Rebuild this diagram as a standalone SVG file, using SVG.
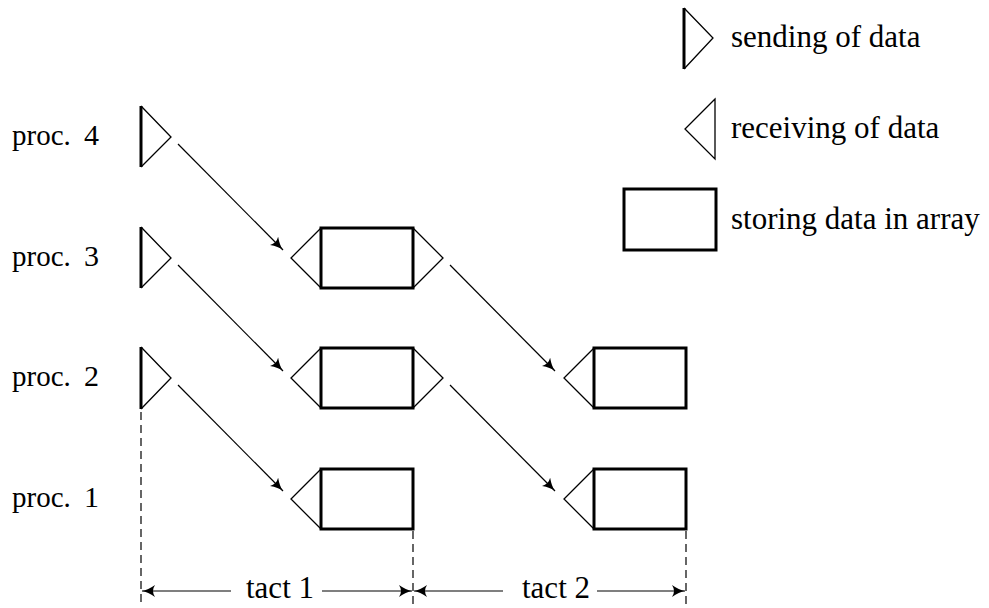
<svg xmlns="http://www.w3.org/2000/svg" width="989" height="608" viewBox="0 0 989 608">
<defs>
<marker id="ah" viewBox="0 0 14 12" refX="13" refY="6" markerWidth="14" markerHeight="12" markerUnits="userSpaceOnUse" orient="auto-start-reverse">
<path d="M0,0 Q7,5 13,6 Q7,7 0,12 Q4,6 0,0 Z" fill="#000"/>
</marker>
</defs>
<style>
text{font-family:'Liberation Serif','Times New Roman',serif;font-size:31px;fill:#000}
.lab{font-size:29px}
.dig{font-size:30px}
.tri{fill:none;stroke:#000;stroke-width:1.3}
.bar{stroke:#000;stroke-width:3}
.box{fill:none;stroke:#000;stroke-width:3}
.ln{stroke:#000;stroke-width:1.2;fill:none}
.dash{stroke:#000;stroke-width:1.2;stroke-dasharray:8,5}
</style>
<rect width="989" height="608" fill="#fff"/>

<g id="labels">
<text class="lab" x="12" y="145">proc.<tspan class="dig" x="84">4</tspan></text>
<text class="lab" x="12" y="265.5">proc.<tspan class="dig" x="84">3</tspan></text>
<text class="lab" x="12" y="386">proc.<tspan class="dig" x="84">2</tspan></text>
<text class="lab" x="12" y="506.5">proc.<tspan class="dig" x="84">1</tspan></text>
</g>

<g id="send4"><polyline class="tri" points="141,106 171,137 141,167"/><line class="bar" x1="141" y1="106" x2="141" y2="167"/></g>
<g id="send3"><polyline class="tri" points="141,227 171,258 141,288"/><line class="bar" x1="141" y1="227" x2="141" y2="288"/></g>
<g id="send2"><polyline class="tri" points="141,347 171,378 141,409"/><line class="bar" x1="141" y1="347" x2="141" y2="409"/></g>

<g id="t1p3"><polyline class="tri" points="321,228 291,258 321,288"/><polyline class="tri" points="413,228 443,258 413,288"/><rect class="box" x="321" y="228" width="92" height="60"/></g>
<g id="t1p2"><polyline class="tri" points="321,348 291,378 321,408"/><polyline class="tri" points="413,348 443,378 413,408"/><rect class="box" x="321" y="348" width="92" height="60"/></g>
<g id="t1p1"><polyline class="tri" points="321,469 291,499 321,529"/><rect class="box" x="321" y="469" width="92" height="60"/></g>
<g id="t2p2"><polyline class="tri" points="594,348 564,378 594,408"/><rect class="box" x="594" y="348" width="92" height="60"/></g>
<g id="t2p1"><polyline class="tri" points="594,469 564,499 594,529"/><rect class="box" x="594" y="469" width="92" height="60"/></g>

<g id="legend">
<polyline class="tri" points="684,8 713,38 684,69"/><line class="bar" x1="684" y1="8" x2="684" y2="69"/>
<text x="731" y="47">sending of data</text>
<polygon class="tri" points="715,99 685,129 715,159"/>
<text x="731" y="138">receiving of data</text>
<rect class="box" x="624" y="189" width="92" height="61"/>
<text x="731" y="229">storing data in array</text>
</g>

<g id="connectors">
<line class="ln" x1="178" y1="144" x2="283" y2="250" marker-end="url(#ah)"/>
<line class="ln" x1="178" y1="265" x2="283" y2="371" marker-end="url(#ah)"/>
<line class="ln" x1="178" y1="385" x2="283" y2="491" marker-end="url(#ah)"/>
<line class="ln" x1="450" y1="265" x2="555" y2="371" marker-end="url(#ah)"/>
<line class="ln" x1="450" y1="385" x2="555" y2="491" marker-end="url(#ah)"/>
<line class="dash" x1="141" y1="412" x2="141" y2="606"/>
<line class="dash" x1="413" y1="531" x2="413" y2="606"/>
<line class="dash" x1="686" y1="531" x2="686" y2="606"/>
<line class="ln" x1="231" y1="591" x2="142" y2="591" marker-end="url(#ah)"/>
<line class="ln" x1="322" y1="591" x2="412" y2="591" marker-end="url(#ah)"/>
<line class="ln" x1="503" y1="591" x2="414" y2="591" marker-end="url(#ah)"/>
<line class="ln" x1="597" y1="591" x2="685" y2="591" marker-end="url(#ah)"/>
<text x="280" y="598" text-anchor="middle">tact 1</text>
<text x="556" y="598" text-anchor="middle">tact 2</text>
</g>
</svg>
